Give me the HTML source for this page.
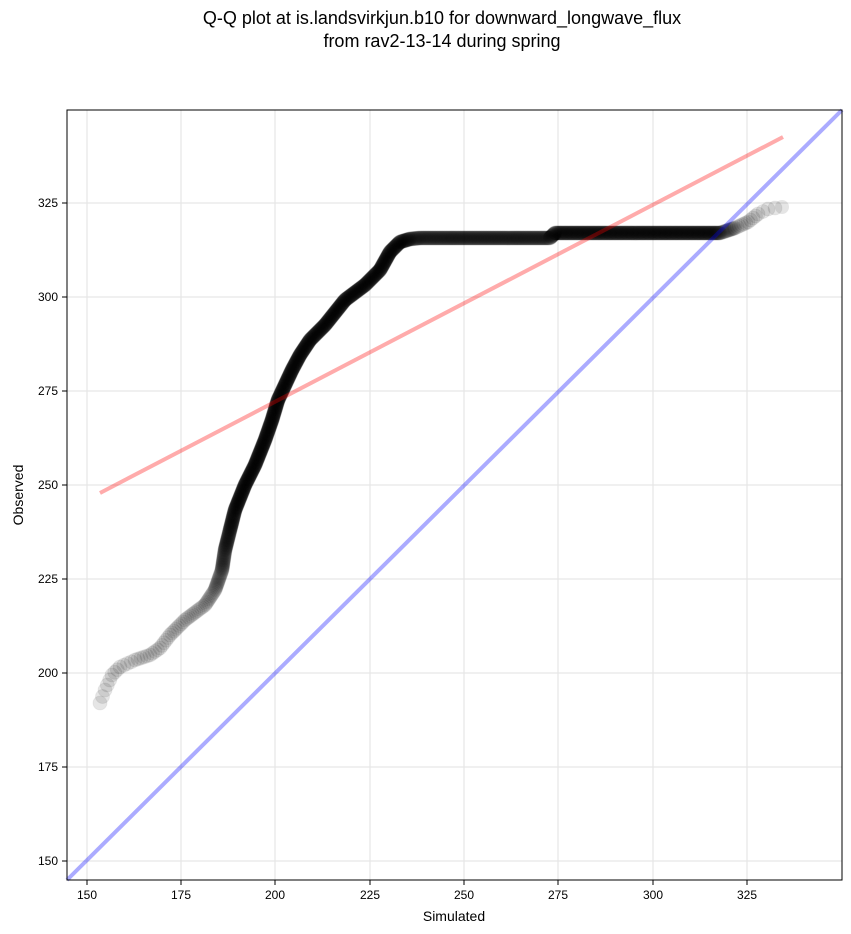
<!DOCTYPE html>
<html><head><meta charset="utf-8"><style>
body{margin:0;background:#fff;}
svg{display:block;font-family:"Liberation Sans","DejaVu Sans",sans-serif;}
</style></head><body>
<svg id="s" width="851" height="934" viewBox="0 0 851 934" xmlns="http://www.w3.org/2000/svg">
<rect width="851" height="934" fill="#fff"/>
<text x="442" y="24" font-size="18" text-anchor="middle">Q-Q plot at is.landsvirkjun.b10 for downward_longwave_flux</text>
<text x="442" y="47" font-size="18" text-anchor="middle">from rav2-13-14 during spring</text>
<g stroke="#e6e6e6" stroke-width="1.2">
<line x1="87" y1="110" x2="87" y2="880"/><line x1="181" y1="110" x2="181" y2="880"/><line x1="275" y1="110" x2="275" y2="880"/><line x1="370" y1="110" x2="370" y2="880"/><line x1="464" y1="110" x2="464" y2="880"/><line x1="558" y1="110" x2="558" y2="880"/><line x1="653" y1="110" x2="653" y2="880"/><line x1="747" y1="110" x2="747" y2="880"/>
<line x1="67" y1="203" x2="842" y2="203"/><line x1="67" y1="297" x2="842" y2="297"/><line x1="67" y1="391" x2="842" y2="391"/><line x1="67" y1="485" x2="842" y2="485"/><line x1="67" y1="579" x2="842" y2="579"/><line x1="67" y1="673" x2="842" y2="673"/><line x1="67" y1="767" x2="842" y2="767"/><line x1="67" y1="861" x2="842" y2="861"/>
</g>
<g id="pts"></g>
<line x1="100" y1="493" x2="783" y2="137" stroke="#ff0000" stroke-opacity="0.33" stroke-width="4"/>
<line x1="67" y1="880" x2="842" y2="110" stroke="#0000ff" stroke-opacity="0.33" stroke-width="4"/>
<rect x="67" y="110" width="775" height="770" fill="none" stroke="#000" stroke-width="1"/>
<g stroke="#000" stroke-width="1">
<line x1="87" y1="880" x2="87" y2="885"/><line x1="181" y1="880" x2="181" y2="885"/><line x1="275" y1="880" x2="275" y2="885"/><line x1="370" y1="880" x2="370" y2="885"/><line x1="464" y1="880" x2="464" y2="885"/><line x1="558" y1="880" x2="558" y2="885"/><line x1="653" y1="880" x2="653" y2="885"/><line x1="747" y1="880" x2="747" y2="885"/>
<line x1="62" y1="203" x2="67" y2="203"/><line x1="62" y1="297" x2="67" y2="297"/><line x1="62" y1="391" x2="67" y2="391"/><line x1="62" y1="485" x2="67" y2="485"/><line x1="62" y1="579" x2="67" y2="579"/><line x1="62" y1="673" x2="67" y2="673"/><line x1="62" y1="767" x2="67" y2="767"/><line x1="62" y1="861" x2="67" y2="861"/>
</g>
<g font-size="12" text-anchor="middle">
<text x="87" y="899">150</text><text x="181" y="899">175</text><text x="275" y="899">200</text><text x="370" y="899">225</text><text x="464" y="899">250</text><text x="558" y="899">275</text><text x="653" y="899">300</text><text x="747" y="899">325</text>
</g>
<g font-size="12" text-anchor="end">
<text x="58" y="207">325</text><text x="58" y="301">300</text><text x="58" y="395">275</text><text x="58" y="489">250</text><text x="58" y="583">225</text><text x="58" y="677">200</text><text x="58" y="771">175</text><text x="58" y="865">150</text>
</g>
<text x="454" y="921" font-size="14" text-anchor="middle">Simulated</text>
<text x="23" y="495" font-size="14" text-anchor="middle" transform="rotate(-90 23 495)">Observed</text>
</svg>
<script>
var P=[[100,703,8],[105,690,6],[112,675,5],[120,667,4],[135,660,4],[150,655,3],[160,648,3],[170,635,3],[185,620,2.5],[205,605,2],[215,590,1.5],[222,570,1],[225,550,0.7],[230,530,0.6],[235,510,0.5],[245,485,0.5],[255,465,0.5],[265,440,0.5],[272,420,0.5],[278,400,0.5],[285,385,0.5],[292,370,0.5],[300,355,0.5],[310,340,0.5],[325,325,0.5],[345,300,0.5],[365,285,0.5],[380,270,0.5],[390,252,0.5],[400,242,0.5],[410,239,0.5],[420,238,0.8],[550,238,0.6],[555,233,0.5],[720,233,0.6],[735,228,1.5],[748,222,3],[758,214,4],[768,209,5],[775,208,6],[782,202,8]];
var g=document.getElementById('pts'),h='';
for(var i=0;i<P.length-1;i++){var a=P[i],b=P[i+1],dx=b[0]-a[0],dy=b[1]-a[1],L=Math.sqrt(dx*dx+dy*dy),st=(a[2]+b[2])/2,n=Math.max(1,Math.round(L/st));
for(var k=0;k<n;k++){var t=k/n;h+='<circle cx="'+(a[0]+dx*t).toFixed(1)+'" cy="'+(a[1]+dy*t).toFixed(1)+'" r="7" fill="#000" fill-opacity="0.1" stroke="#000" stroke-opacity="0.05"/>';}}
h+='<circle cx="782" cy="207" r="7" fill="#000" fill-opacity="0.1"/>';
g.innerHTML=h;
</script>
</body></html>
